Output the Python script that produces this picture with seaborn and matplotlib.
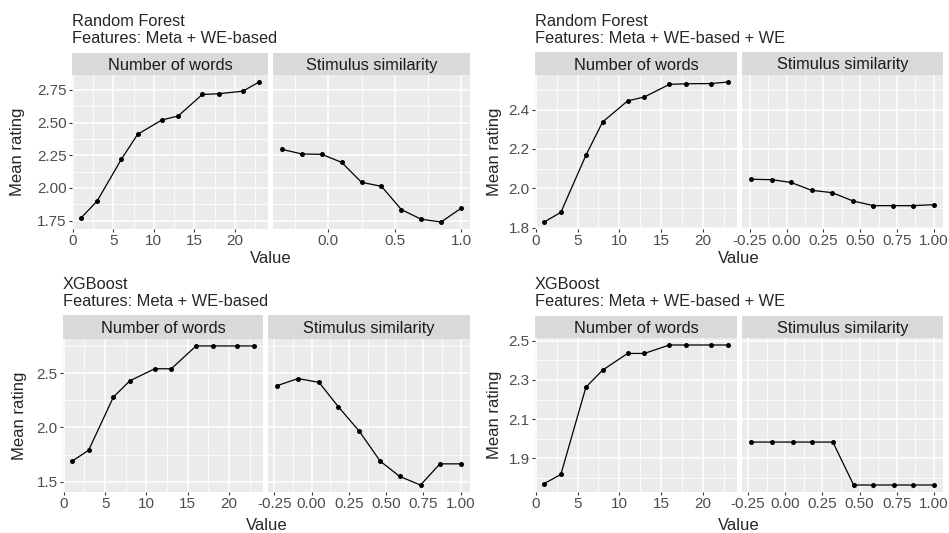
import pandas as pd
import seaborn as sns
import matplotlib
matplotlib.use('Agg')
import matplotlib.pyplot as plt
from matplotlib.patches import Rectangle

# x values shared by the "Number of words" facets
words_x = [1, 3, 6, 8, 11, 13, 16, 18, 21, 23]

# Random Forest, Meta + WE-based
rf_base_sim_x = [-0.35, -0.20, -0.05, 0.10, 0.25, 0.40, 0.55, 0.70, 0.85, 1.00]
rf_base_words = [1.77, 1.90, 2.22, 2.41, 2.52, 2.55, 2.715, 2.72, 2.74, 2.81]
rf_base_sim = [2.295, 2.26, 2.257, 2.196, 2.043, 2.013, 1.835, 1.761, 1.74, 1.845]

# Random Forest, Meta + WE-based + WE
rf_full_sim_x = [-0.24, -0.10, 0.03, 0.17, 0.31, 0.45, 0.59, 0.72, 0.86, 1.00]
rf_full_words = [1.829, 1.878, 2.168, 2.337, 2.444, 2.464, 2.528, 2.531, 2.532, 2.54]
rf_full_sim = [2.046, 2.044, 2.03, 1.99, 1.978, 1.936, 1.912, 1.912, 1.912, 1.917]

# XGBoost (both feature sets share the similarity grid)
xgb_sim_x = [-0.23, -0.09, 0.05, 0.18, 0.32, 0.46, 0.59, 0.73, 0.86, 1.00]
xgb_base_words = [1.69, 1.79, 2.28, 2.43, 2.54, 2.54, 2.75, 2.75, 2.75, 2.75]
xgb_base_sim = [2.385, 2.45, 2.415, 2.19, 1.965, 1.69, 1.55, 1.47, 1.665, 1.665]
xgb_full_words = [1.771, 1.818, 2.263, 2.35, 2.435, 2.435, 2.478, 2.478, 2.478, 2.478]
xgb_full_sim = [1.983, 1.983, 1.983, 1.983, 1.983, 1.764, 1.764, 1.764, 1.764, 1.764]

# tick labels / breaks
words_ticks = [0, 5, 10, 15, 20]
sim_ticks_short = [0.0, 0.5, 1.0]
sim_ticks_long = [-0.25, 0.0, 0.25, 0.5, 0.75, 1.0]
y_ticks_rf_base = [1.75, 2.00, 2.25, 2.50, 2.75]
y_ticks_rf_full = [1.8, 2.0, 2.2, 2.4]
y_ticks_xgb_base = [1.5, 2.0, 2.5]
y_ticks_xgb_full = [1.9, 2.1, 2.3, 2.5]

facets = ['Number of words', 'Stimulus similarity']

sns.set_theme(style='darkgrid', rc={'axes.facecolor': '#EBEBEB', 'grid.color': 'white'})
plt.rcParams['font.family'] = ['Liberation Sans', 'DejaVu Sans']

W, H = 949, 533
fig = plt.figure(figsize=(W / 100, H / 100), dpi=100)
fig.patch.set_facecolor('white')


def px_axes(x0, x1, y0, y1):
    return fig.add_axes([x0 / W, 1 - y1 / H, (x1 - x0) / W, (y1 - y0) / H])


def expand(vals):
    lo, hi = min(vals), max(vals)
    r = hi - lo
    return lo - 0.05 * r, hi + 0.05 * r


def minors(ticks):
    step = ticks[1] - ticks[0]
    out = [ticks[0] - step / 2]
    out += [t + step / 2 for t in ticks]
    return out


def draw_block(title, fx, fbases, fa, fb, py, sy, ylab_x, value_y,
               xs, ys, xticks, xfmt, yticks, yfmt):
    # title, two lines
    fig.text(fx / W, 1 - fbases[0] / H, title[0], fontsize=11.8, va='baseline', ha='left')
    fig.text(fx / W, 1 - fbases[1] / H, title[1], fontsize=11.8, va='baseline', ha='left')
    ylim = expand(ys[0] + ys[1])
    for i, (xa, xb) in enumerate([fa, fb]):
        ax = px_axes(xa, xb, py[0], py[1])
        df = pd.DataFrame({'Value': xs[i], 'rating': ys[i]})
        sns.lineplot(data=df, x='Value', y='rating', ax=ax, color='black', lw=0.9,
                     marker='o', markersize=3.6, markeredgewidth=0)
        ax.set_xlim(*expand(xs[i]))
        ax.set_ylim(*ylim)
        ax.set_xticks(xticks[i])
        ax.set_xticklabels([xfmt[i].format(t) for t in xticks[i]])
        ax.set_xticks(minors(xticks[i]), minor=True)
        ax.set_yticks(yticks)
        ax.set_yticks(minors(yticks), minor=True)
        ax.set_xlim(*expand(xs[i]))
        ax.set_ylim(*ylim)
        ax.grid(which='major', color='white', lw=1.1)
        ax.grid(which='minor', color='white', lw=0.55)
        ax.set_xlabel('')
        ax.set_ylabel('')
        for s in ax.spines.values():
            s.set_visible(False)
        ax.tick_params(which='major', length=2.2, width=0.8, color='#333333',
                       labelcolor='#4D4D4D', labelsize=11, pad=1.5,
                       bottom=True, left=(i == 0))
        ax.tick_params(which='minor', length=0)
        if i == 0:
            ax.set_yticklabels([yfmt.format(t) for t in yticks])
        else:
            ax.set_yticklabels([])
        # strip
        hs = (sy[1] - sy[0]) / (py[1] - py[0])
        ax.add_patch(Rectangle((0, 1), 1, hs, transform=ax.transAxes, clip_on=False,
                               facecolor='#D9D9D9', edgecolor='none'))
        ax.text(0.5, 1 + hs / 2, facets[i], transform=ax.transAxes, ha='center',
                va='center_baseline', fontsize=11.8, color='#1A1A1A')
    fig.text(ylab_x / W, 1 - (py[0] + py[1]) / 2 / H, 'Mean rating', rotation=90,
             ha='center', va='center', fontsize=12)
    fig.text((fa[0] + fb[1]) / 2 / W, 1 - value_y / H, 'Value', ha='center',
             va='center', fontsize=12)


draw_block(('Random Forest', 'Features: Meta + WE-based'), 72, (26, 43),
           (72, 268), (273, 470), (75, 229), (53, 75), 18, 259,
           (words_x, rf_base_sim_x), (rf_base_words, rf_base_sim),
           (words_ticks, sim_ticks_short), ('{:g}', '{:.1f}'), y_ticks_rf_base, '{:.2f}')

draw_block(('Random Forest', 'Features: Meta + WE-based + WE'), 535, (26, 43),
           (535, 737), (742, 943), (75, 229), (52, 75), 495, 259,
           (words_x, rf_full_sim_x), (rf_full_words, rf_full_sim),
           (words_ticks, sim_ticks_long), ('{:g}', '{:.2f}'), y_ticks_rf_full, '{:.1f}')

draw_block(('XGBoost', 'Features: Meta + WE-based'), 63, (289, 306),
           (63, 263), (268, 470), (339, 492), (315, 339), 20, 525,
           (words_x, xgb_sim_x), (xgb_base_words, xgb_base_sim),
           (words_ticks, sim_ticks_long), ('{:g}', '{:.2f}'), y_ticks_xgb_base, '{:.1f}')

draw_block(('XGBoost', 'Features: Meta + WE-based + WE'), 535, (289, 306),
           (535, 737), (742, 943), (338, 492), (316, 338), 495, 525,
           (words_x, xgb_sim_x), (xgb_full_words, xgb_full_sim),
           (words_ticks, sim_ticks_long), ('{:g}', '{:.2f}'), y_ticks_xgb_full, '{:.1f}')

fig.savefig('out.png', dpi=100)
